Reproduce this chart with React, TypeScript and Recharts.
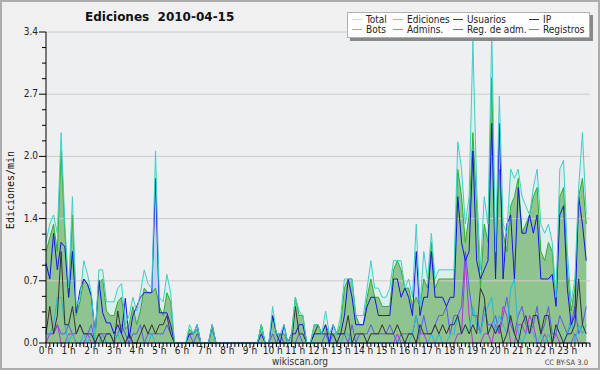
import React from "react";
import {
  ComposedChart,
  Area,
  Line,
  XAxis,
  YAxis,
  ReferenceLine,
  ReferenceArea,
} from "recharts";

// one value every 10 minutes (edits per minute), 6 per hour
const total = [
  1.1, 1.3, 1.4, 1.2, 2.3, 1.3,
  0.6, 1.6, 0.4, 0.5, 0.9, 0.75,
  0.55, 0.05, 0.8, 0.8, 0.45, 0.45,
  0.45, 0.6, 0.65, 0.2, 0.3, 0.5,
  0.35, 0.55, 0.8, 0.65, 0.6, 2.1,
  0.5, 0.45, 0.75, 0.55, 0, 0,
  0, 0, 0.2, 0.1, 0.2, 0,
  0, 0, 0.2, 0, 0, 0,
  0, 0, 0, 0, 0, 0,
  0, 0, 0, 0.2, 0, 0,
  0.4, 0.1, 0.1, 0.2, 0, 0.1,
  0.5, 0.35, 0.3, 0, 0, 0.2,
  0.2, 0.1, 0.35, 0.1, 0.2, 0.1,
  0.3, 0.7, 0.7, 0.7, 0.3, 0.3,
  0.3, 0.6, 0.9, 0.6, 0.6, 0.5,
  0.5, 0.6, 0.9, 0.9, 0.9, 0.6,
  0.7, 0.5, 1.3, 0.4, 1.0, 0.7,
  1.2, 0.7, 0.8, 0.8, 0.8, 0.8,
  0.8, 2.2, 1.9, 1.3, 1.6, 3.3,
  1.7, 0.8, 1.6, 1.3, 3.4, 1.0,
  2.7, 1.3, 1.2, 1.9, 1.8, 1.9,
  1.6, 1.5, 1.4, 1.7, 1.9, 1.3,
  1.2, 1.3, 1.1, 0.5, 1.9, 2.0,
  1.0, 0.45, 0.7, 1.7, 2.3, 1.4,
];

const ediciones = [
  1.0, 1.15, 1.3, 1.0, 2.1, 1.2,
  0.5, 1.4, 0.3, 0.45, 0.7, 0.65,
  0.5, 0.05, 0.65, 0.7, 0.35, 0.3,
  0.3, 0.45, 0.5, 0.15, 0.2, 0.4,
  0.2, 0.35, 0.6, 0.55, 0.55, 0.6,
  0.4, 0.3, 0.55, 0.45, 0, 0,
  0, 0, 0.15, 0.1, 0.15, 0,
  0, 0, 0.15, 0, 0, 0,
  0, 0, 0, 0, 0, 0,
  0, 0, 0, 0.2, 0, 0,
  0.3, 0.1, 0.1, 0.1, 0, 0.1,
  0.5, 0.3, 0.3, 0, 0, 0.2,
  0.2, 0.1, 0.2, 0.1, 0.1, 0.1,
  0.2, 0.6, 0.7, 0.7, 0.3, 0.2,
  0.2, 0.5, 0.7, 0.5, 0.5, 0.4,
  0.4, 0.4, 0.8, 0.9, 0.8, 0.6,
  0.6, 0.4, 0.5, 0.4, 0.7, 0.6,
  1.1, 0.6, 0.7, 0.7, 0.7, 0.7,
  0.7, 1.9, 1.6, 1.1, 1.4, 2.3,
  1.5, 0.6, 1.3, 1.1, 2.9, 0.8,
  1.9, 1.2, 1.0, 1.5, 1.6, 1.8,
  1.2, 1.3, 1.4, 1.6, 1.7, 1.0,
  0.9, 1.1, 1.0, 0.45, 1.6, 1.7,
  0.8, 0.35, 0.6, 1.6, 1.8, 1.3,
];

const usuarios = [
  0.87, 0.7, 1.2, 0.8, 1.1, 1.05,
  0.5, 1.0, 0.33, 0.58, 0.7, 0.64,
  0.52, 0.1, 0.69, 0.33, 0.22, 0.22,
  0.1, 0.2, 0.1, 0.49, 0.05, 0.3,
  0.4, 0.5, 0.55, 0.55, 0.55, 1.8,
  0.33, 0.33, 0.33, 0.2, 0, 0,
  0, 0, 0.1, 0.1, 0.2, 0,
  0, 0, 0.2, 0, 0, 0,
  0, 0, 0, 0, 0, 0,
  0, 0, 0, 0.1, 0, 0,
  0.3, 0.1, 0, 0.2, 0, 0.1,
  0.1, 0.2, 0.2, 0, 0, 0.1,
  0.1, 0.1, 0.2, 0, 0.2, 0.1,
  0.1, 0.3, 0.7, 0.5, 0.2, 0.2,
  0.2, 0.4, 0.5, 0.5, 0.3, 0.3,
  0.3, 0.3, 0.7, 0.7, 0.5, 0.6,
  0.5, 0.3, 1.0, 0.3, 0.5, 0.5,
  1.0, 0.5, 0.5, 0.5, 0.4, 0.5,
  0.5, 1.6, 1.1, 0.9, 1.0, 2.1,
  0.9, 0.7, 0.8, 0.9, 2.4, 0.7,
  2.4, 0.7, 1.3, 1.4, 0.7, 1.7,
  1.2, 1.2, 1.4, 1.2, 1.4, 0.7,
  0.7, 0.7, 0.75, 0.4, 1.4, 1.5,
  0.6, 0.2, 0.3, 1.6, 1.3, 0.9,
];

const ip = [
  0.1, 0.4, 0.1, 0.3, 1.0, 0.2,
  0.2, 0.4, 0.1, 0.2, 0.1, 0.1,
  0.1, 0, 0.1, 0, 0.1, 0.1,
  0, 0.35, 0.1, 0, 0.1, 0,
  0, 0.1, 0.2, 0.1, 0.2, 0.1,
  0.2, 0.2, 0.3, 0.1, 0, 0,
  0, 0, 0, 0, 0, 0,
  0, 0, 0, 0, 0, 0,
  0, 0, 0, 0, 0, 0,
  0, 0, 0, 0.2, 0, 0,
  0, 0, 0, 0, 0, 0,
  0.4, 0.1, 0.1, 0, 0, 0.1,
  0.2, 0.1, 0.1, 0.1, 0.1, 0,
  0.1, 0.1, 0.3, 0, 0.1, 0.1,
  0.1, 0, 0.1, 0.1, 0.1, 0.2,
  0.1, 0.1, 0.1, 0.2, 0.1, 0,
  0.1, 0.1, 0, 0.2, 0.1, 0.1,
  0.1, 0.2, 0.1, 0.2, 0.1, 0.2,
  0.2, 0.3, 0.1, 0.2, 0.1, 0.2,
  0.1, 0.6, 0.5, 0.1, 0.2, 0.1,
  0.2, 0, 0.1, 0.3, 0.1, 0,
  0.2, 0.3, 0.1, 0.3, 0.3, 0.1,
  0.3, 0.3, 0, 0.2, 0.1, 0,
  0.1, 0.1, 0.2, 0.7, 0.2, 0.1,
];

const admins = [
  0.1, 0.1, 0.2, 0.5, 0.5, 0.2,
  0, 0.1, 0, 0, 0.1, 0,
  0.1, 0, 0, 0.1, 0, 0,
  0, 0.1, 0, 0, 0, 0,
  0, 0, 0, 0, 0.1, 0,
  0, 0, 0, 0, 0, 0,
  0, 0, 0, 0, 0, 0,
  0, 0, 0, 0, 0, 0,
  0, 0, 0, 0, 0, 0,
  0, 0, 0, 0, 0, 0,
  0, 0, 0, 0, 0, 0,
  0, 0, 0, 0, 0, 0,
  0, 0, 0, 0, 0, 0,
  0, 0.1, 0.1, 0, 0, 0,
  0, 0, 0, 0, 0, 0,
  0, 0, 0, 0, 0, 0,
  0, 0.1, 0.3, 0, 0, 0,
  0.1, 0, 0.1, 0, 0, 0.1,
  0.1, 0.3, 0.1, 0.2, 0.1, 0.4,
  0.2, 0.1, 0.3, 0.4, 0.5, 0.1,
  0.3, 0.2, 0.1, 0.6, 0.7, 0.1,
  0, 0.1, 0.2, 0.1, 0, 0.1,
  0, 0.1, 0, 0.2, 0.1, 0,
  0.1, 0.3, 0, 0.2, 0.1, 0.2,
];

const regAdm = [
  0, 0.1, 0.1, 0.2, 0, 0,
  0.1, 0.1, 0, 0, 0, 0.1,
  0, 0, 0.1, 0.1, 0, 0,
  0, 0, 0, 0, 0.1, 0,
  0, 0, 0, 0, 0, 0,
  0, 0, 0, 0, 0, 0,
  0, 0, 0, 0, 0, 0,
  0, 0, 0, 0, 0, 0,
  0, 0, 0, 0, 0, 0,
  0, 0, 0, 0, 0, 0,
  0, 0, 0, 0, 0, 0,
  0, 0, 0, 0, 0, 0,
  0, 0, 0, 0, 0, 0,
  0, 0, 0, 0, 0, 0,
  0, 0, 0, 0, 0, 0,
  0, 0, 0, 0.1, 0, 0,
  0, 0, 0, 0.1, 0.1, 0,
  0, 0, 0, 0, 0, 0,
  0, 0.1, 0.1, 0.9, 0.3, 0,
  0, 0, 0.1, 0.1, 0, 0.2,
  0.1, 0.4, 0.3, 0, 0, 0.2,
  0.2, 0.1, 0.3, 0.2, 0, 0,
  0.1, 0, 0, 0.1, 0, 0,
  0, 0, 0.1, 0, 0, 0,
];

const registros = [
  0.1, 0.1, 0.1, 0.2, 0.1, 0.1,
  0.2, 0.1, 0.1, 0.2, 0.1, 0.1,
  0.2, 0, 0.1, 0.1, 0.1, 0.1,
  0, 0.1, 0.2, 0.1, 0, 0.1,
  0.1, 0.2, 0, 0.1, 0.1, 0.1,
  0.1, 0.1, 0.2, 0.1, 0, 0,
  0, 0, 0.1, 0, 0.1, 0,
  0, 0, 0, 0, 0, 0,
  0, 0, 0, 0, 0, 0,
  0, 0, 0, 0, 0, 0,
  0.1, 0, 0.1, 0, 0, 0,
  0, 0.1, 0, 0, 0, 0,
  0, 0, 0.1, 0, 0.1, 0,
  0.1, 0.1, 0, 0.2, 0, 0.1,
  0.1, 0.1, 0.2, 0.1, 0.1, 0.1,
  0.1, 0.2, 0.1, 0, 0.1, 0.1,
  0.1, 0.1, 0.3, 0.1, 0.3, 0.1,
  0.1, 0.2, 0.3, 0.3, 0.4, 0.1,
  0.3, 0.3, 0.4, 1.0, 0.6, 0.3,
  0.3, 0.1, 0.4, 0.2, 0.2, 0.3,
  0.1, 0.3, 0.5, 0.2, 0.1, 0.3,
  0.4, 0.2, 0.1, 0.2, 0.4, 0.1,
  0.2, 0.4, 0.1, 0.1, 0.3, 0.2,
  0.1, 0.2, 0.4, 0.1, 0.2, 0.4,
];

const hourLabels = [
  "0 h", "1 h", "2 h", "3 h", "4 h", "5 h", "6 h", "7 h", "8 h", "9 h", "10 h", "11 h",
  "12 h", "13 h", "14 h", "15 h", "16 h", "17 h", "18 h", "19 h", "20 h", "21 h", "22 h", "23 h",
];

const yTicks = [
  0, 0.17, 0.34, 0.51, 0.68, 0.85, 1.02, 1.19, 1.36, 1.53, 1.7,
  1.87, 2.04, 2.21, 2.38, 2.55, 2.72, 2.89, 3.06, 3.23, 3.4,
];
const yMajor = [0, 0.68, 1.36, 2.04, 2.72, 3.4];
const yMajorLabels = ["0.0", "0.7", "1.4", "2.0", "2.7", "3.4"];

const legendRows = [
  [
    { name: "Total", color: "#a8e4e4" },
    { name: "Ediciones", color: "#88cc88" },
    { name: "Usuarios", color: "#3333cc" },
    { name: "IP", color: "#333333" },
  ],
  [
    { name: "Bots", color: "#ff9933" },
    { name: "Admins.", color: "#33bbdd" },
    { name: "Reg. de adm.", color: "#cc33cc" },
    { name: "Registros", color: "#7777ee" },
  ],
];

const data = total.map((t, i) => ({
  i,
  total: t,
  ediciones: ediciones[i],
  usuarios: usuarios[i],
  ip: ip[i],
  admins: admins[i],
  regAdm: regAdm[i],
  registros: registros[i],
}));

const xTicks = Array.from({ length: 145 }, (_, i) => i);

const FONT =
  "'Liberation Sans Narrow', 'DejaVu Sans Condensed', 'DejaVu Sans', sans-serif";

const XTick = (props: any) => {
  const { x, y, payload } = props;
  const v = payload.value as number;
  const hour = v % 6 === 0 && v < 144;
  return (
    <g>
      <line x1={x} y1={y} x2={x} y2={y + (hour ? 5 : 4)} stroke="#000" />
      {hour && (
        <text
          x={x}
          y={y + 11}
          textAnchor="middle"
          fontSize={10}
          fontFamily={FONT}
          fill="#222"
        >
          {hourLabels[v / 6]}
        </text>
      )}
    </g>
  );
};

const YTick = (props: any) => {
  const { x, y, payload } = props;
  const v = payload.value as number;
  const k = yMajor.findIndex((m) => Math.abs(m - v) < 0.001);
  return (
    <g>
      <line x1={x - (k >= 0 ? 7 : 4)} y1={y} x2={x} y2={y} stroke="#000" />
      {k >= 0 && (
        <text
          x={x - 8}
          y={y + 3}
          textAnchor="end"
          fontSize={10}
          fontFamily={FONT}
          fill="#222"
        >
          {yMajorLabels[k]}
        </text>
      )}
    </g>
  );
};

export default function App() {
  return (
    <div
      style={{
        position: "relative",
        width: 600,
        height: 370,
        boxSizing: "border-box",
        border: "2px solid #adadad",
        background: "#f0f0f0",
        fontFamily: FONT,
        overflow: "hidden",
      }}
    >
      <style>{`body{margin:0}`}</style>
      <div style={{ position: "absolute", left: -2, top: -2 }}>
        <ComposedChart
          width={600}
          height={370}
          data={data}
          margin={{ top: 32, right: 10, bottom: 0, left: 0 }}
        >
          <XAxis
            type="number"
            dataKey="i"
            domain={[0, 144]}
            ticks={xTicks}
            interval={0}
            height={27}
            tickSize={0}
            tickMargin={0}
            tickLine={false}
            axisLine={{ stroke: "#000" }}
            tick={<XTick />}
          />
          <YAxis
            type="number"
            domain={[0, 3.4]}
            ticks={yTicks}
            interval={0}
            width={46}
            tickSize={0}
            tickMargin={0}
            tickLine={false}
            axisLine={{ stroke: "#000" }}
            tick={<YTick />}
          />
          <ReferenceArea x1={0} x2={144} y1={0} y2={3.4} fill="#edeff1" fillOpacity={1} stroke="none" />
          {yMajor.slice(1).map((v) => (
            <ReferenceLine key={v} y={v} stroke="#cccccc" />
          ))}
          <Area type="linear" dataKey="total" stroke="none" fill="#dcefed" fillOpacity={1} isAnimationActive={false} dot={false} activeDot={false} />
          <Area type="linear" dataKey="usuarios" stroke="none" fill="#c3d1ec" fillOpacity={1} isAnimationActive={false} dot={false} activeDot={false} />
          <Area type="linear" dataKey="ediciones" stroke="none" fill="#8fc48f" fillOpacity={1} isAnimationActive={false} dot={false} activeDot={false} />
          <Line type="linear" dataKey="registros" stroke="#5a5af0" strokeWidth={1} dot={false} isAnimationActive={false} />
          <Line type="linear" dataKey="regAdm" stroke="#b833dd" strokeWidth={1} dot={false} isAnimationActive={false} />
          <Line type="linear" dataKey="admins" stroke="#22bbdd" strokeWidth={1} dot={false} isAnimationActive={false} />
          <Line type="linear" dataKey="ip" stroke="#333333" strokeWidth={1} dot={false} isAnimationActive={false} />
          <Line type="linear" dataKey="ediciones" stroke="#2eb02e" strokeWidth={1} dot={false} isAnimationActive={false} />
          <Line type="linear" dataKey="usuarios" stroke="#1414e6" strokeWidth={1} dot={false} isAnimationActive={false} />
          <Line type="linear" dataKey="total" stroke="#3cd0c8" strokeWidth={1} dot={false} isAnimationActive={false} />
        </ComposedChart>
      </div>

      <div
        style={{
          position: "absolute",
          left: 83,
          top: 8,
          fontFamily: "'DejaVu Sans', sans-serif",
          fontSize: 12,
          fontWeight: "bold",
          color: "#111",
          whiteSpace: "pre",
        }}
      >
        {"Ediciones  2010-04-15"}
      </div>

      <div
        style={{
          position: "absolute",
          left: 10 - 2,
          top: 190 - 2,
          transform: "translate(-50%, -50%) rotate(-90deg)",
          fontFamily: "'DejaVu Sans Mono', monospace",
          fontSize: 10,
          color: "#111",
          whiteSpace: "nowrap",
        }}
      >
        Ediciones/min
      </div>

      <div
        style={{
          position: "absolute",
          left: 345,
          top: 10,
          width: 243,
          height: 26,
          boxSizing: "border-box",
          background: "#ffffff",
          border: "1px solid #b0b0b0",
          boxShadow: "3px 3px 0 #888888",
        }}
      >
        {legendRows.map((row, r) =>
          row.map((item, c) => (
            <div
              key={item.name}
              style={{
                position: "absolute",
                left: [4, 45, 105, 181][c],
                top: r === 0 ? 1 : 11,
                height: 11,
                display: "flex",
                alignItems: "center",
                fontSize: 10,
                color: "#222",
                whiteSpace: "nowrap",
              }}
            >
              <span style={{ display: "inline-block", width: 10, height: 1, background: item.color, marginRight: 4 }} />
              {item.name}
            </div>
          ))
        )}
      </div>

      <div
        style={{
          position: "absolute",
          left: 300 - 2,
          top: 356 - 2,
          transform: "translateX(-50%)",
          fontSize: 10,
          color: "#333",
        }}
      >
        wikiscan.org
      </div>
      <div
        style={{
          position: "absolute",
          right: 10,
          top: 358 - 2,
          fontSize: 7.5,
          color: "#444",
        }}
      >
        CC BY-SA 3.0
      </div>
    </div>
  );
}
